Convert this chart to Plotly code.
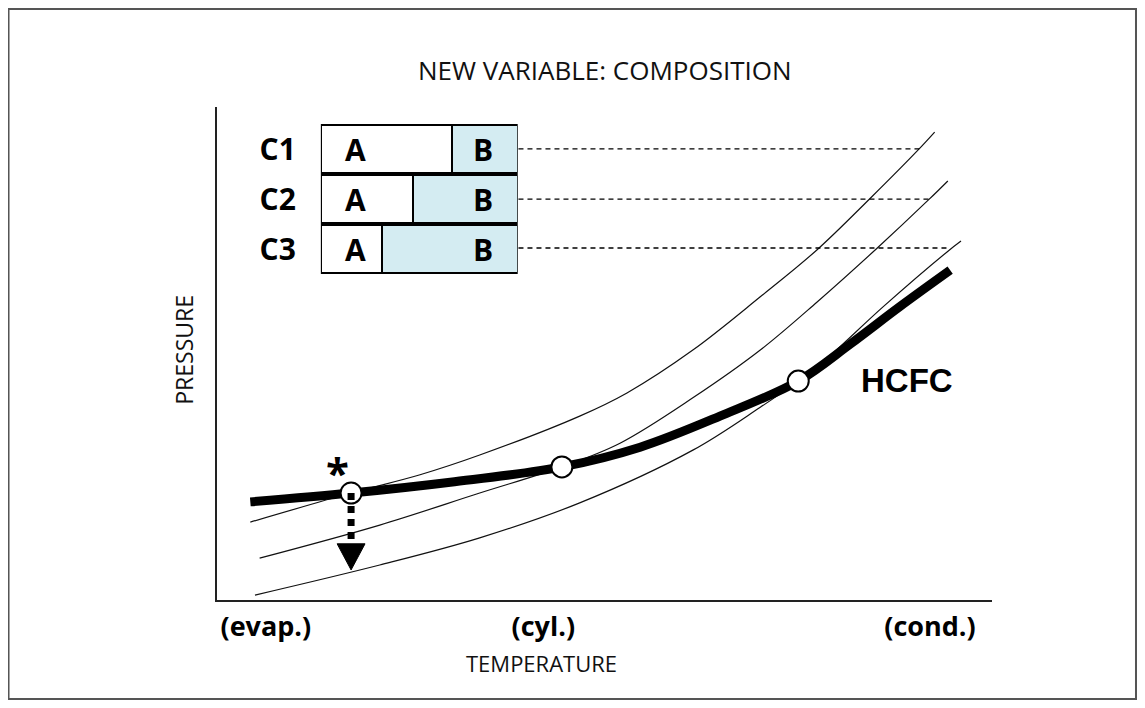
import plotly.graph_objects as go

# ---- data (temperature / pressure, arbitrary units 0-100) ----
hcfc_t = [4.3, 17.3, 30.1, 44.5, 54.6, 64.9, 75.0, 81.7, 88.1, 94.6]
hcfc_p = [19.9, 21.7, 23.9, 27.0, 31.0, 37.3, 44.4, 51.9, 59.5, 66.9]
c1_t = [4.3, 17.3, 26.2, 33.9, 46.8, 52.9, 61.4, 70.1, 77.4, 84.3, 90.6, 92.6]
c1_p = [15.8, 21.7, 25.4, 29.4, 37.3, 42.0, 50.7, 61.5, 71.0, 81.5, 91.5, 94.9]
c2_t = [5.5, 21.0, 33.9, 44.5, 52.0, 61.4, 70.1, 77.4, 85.2, 91.9, 94.3]
c2_p = [8.5, 15.2, 21.7, 27.0, 31.8, 41.0, 50.7, 60.4, 71.4, 81.3, 85.0]
c3_t = [4.9, 21.0, 33.9, 46.8, 61.4, 70.1, 75.0, 78.5, 85.9, 94.2, 96.0]
c3_p = [1.0, 7.1, 12.6, 19.7, 30.4, 39.1, 44.4, 48.7, 59.4, 70.6, 72.8]

# crossing points of HCFC with C1, C2, C3 (indices into hcfc arrays)
cross_idx = [1, 3, 6]

# composition of each blend (fraction of A, remainder B)
comp_names = ["C1", "C2", "C3"]
comp_a = [0.665, 0.467, 0.31]
comp_b = [round(1 - a, 3) for a in comp_a]

# leader lines from composition table to curves
leader_start = 38.9
leader_p = [91.5, 81.3, 71.4]
leader_end = [90.6, 91.9, 94.2]

# arrow at the evaporator point
arrow_t = 17.3
arrow_from = 21.7
arrow_base = 11.4
arrow_tip = 6.1
arrow_half = 1.8

tick_vals = [6.3, 42.1, 92.0]
tick_text = ["(evap.)", "(cyl.)", "(cond.)"]

FONT = "Open Sans"
INK = "#111111"

fig = go.Figure()

for t, p in [(c1_t, c1_p), (c2_t, c2_p), (c3_t, c3_p)]:
    fig.add_trace(go.Scatter(x=t, y=p, mode="lines", line=dict(color=INK, width=1.2, shape="spline"),
                             hoverinfo="skip", showlegend=False))

fig.add_trace(go.Scatter(x=hcfc_t, y=hcfc_p, mode="lines", line=dict(color="#000", width=9, shape="spline"),
                         hoverinfo="skip", showlegend=False))

for p, e in zip(leader_p, leader_end):
    fig.add_trace(go.Scatter(x=[leader_start, e], y=[p, p], mode="lines",
                             line=dict(color="#000", width=1.3, dash="5px,4px"),
                             hoverinfo="skip", showlegend=False))

fig.add_trace(go.Scatter(x=[hcfc_t[i] for i in cross_idx], y=[hcfc_p[i] for i in cross_idx],
                         mode="markers",
                         marker=dict(size=21, color="white", line=dict(color="#000", width=2)),
                         hoverinfo="skip", showlegend=False))

# arrow shaft and head
fig.add_trace(go.Scatter(x=[arrow_t, arrow_t], y=[arrow_from, arrow_base], mode="lines",
                         line=dict(color="#000", width=7, dash="7px,6px"),
                         hoverinfo="skip", showlegend=False))
fig.add_trace(go.Scatter(x=[arrow_t - arrow_half, arrow_t + arrow_half, arrow_t, arrow_t - arrow_half],
                         y=[arrow_base, arrow_base, arrow_tip, arrow_base], mode="lines",
                         fill="toself", fillcolor="#000", line=dict(color="#000", width=1),
                         hoverinfo="skip", showlegend=False))

# composition table as stacked horizontal bars
fig.add_trace(go.Bar(x=comp_a, y=comp_names, orientation="h", xaxis="x2", yaxis="y2",
                     marker=dict(color="white", line=dict(color="#000", width=2)),
                     hoverinfo="skip", showlegend=False))
fig.add_trace(go.Bar(x=comp_b, y=comp_names, orientation="h", xaxis="x2", yaxis="y2",
                     marker=dict(color="#d4ecf2", line=dict(color="#000", width=2)),
                     hoverinfo="skip", showlegend=False))

annotations = []
for n in comp_names:
    annotations.append(dict(x=0.178, y=n, xref="x2", yref="y2", text="A", showarrow=False,
                            font=dict(family=FONT, size=30, color="#000", weight="bold")))
    annotations.append(dict(x=0.822, y=n, xref="x2", yref="y2", text="B", showarrow=False,
                            font=dict(family=FONT, size=30, color="#000", weight="bold")))

annotations += [
    dict(x=0.5006, y=1.075, xref="paper", yref="paper", text="NEW VARIABLE: COMPOSITION",
         showarrow=False, yanchor="middle", font=dict(family=FONT, size=26, color=INK)),
    dict(x=0.419, y=-0.128, xref="paper", yref="paper", text="TEMPERATURE",
         showarrow=False, yanchor="middle", font=dict(family=FONT, size=22, color=INK)),
    dict(x=-0.043, y=0.507, xref="paper", yref="paper", text="PRESSURE", textangle=-90,
         showarrow=False, xanchor="center", yanchor="middle", font=dict(family=FONT, size=23, color=INK)),
    dict(x=89.0, y=44.6, text="HCFC", showarrow=False,
         font=dict(family="Liberation Sans", size=33, color="#000", weight="bold")),
    dict(x=15.6, y=26.0, text="*", showarrow=False,
         font=dict(family=FONT, size=42, color="#000", weight="bold")),
]

fig.update_layout(
    width=1130, height=692,
    margin=dict(l=209, r=146, t=99, b=100),
    paper_bgcolor="white", plot_bgcolor="white",
    barmode="stack", bargap=0.03,
    xaxis=dict(range=[0, 100], showgrid=False, zeroline=False, showline=True, linecolor="#222",
               linewidth=2, tickvals=tick_vals, ticktext=tick_text, ticks="",
               ticklabelstandoff=2,
               tickfont=dict(family=FONT, size=27, color="#000", weight="bold")),
    yaxis=dict(range=[0, 100], showgrid=False, zeroline=False, showline=True, linecolor="#222",
               linewidth=2, showticklabels=False, ticks=""),
    xaxis2=dict(domain=[0.134, 0.388], anchor="y2", range=[0, 1], visible=False),
    yaxis2=dict(domain=[0.661, 0.9655], anchor="x2", autorange="reversed", showgrid=False,
                zeroline=False, showline=False, ticks="", ticklabelstandoff=24,
                tickfont=dict(family=FONT, size=30, color="#000", weight="bold")),
    annotations=annotations,
    shapes=[dict(type="rect", xref="paper", yref="paper", x0=-0.269, x1=1.1858, y0=-0.2008, y1=1.1988,
                 line=dict(color="#555", width=2), fillcolor="rgba(0,0,0,0)", layer="below")],
)

fig.write_html("out.html")
